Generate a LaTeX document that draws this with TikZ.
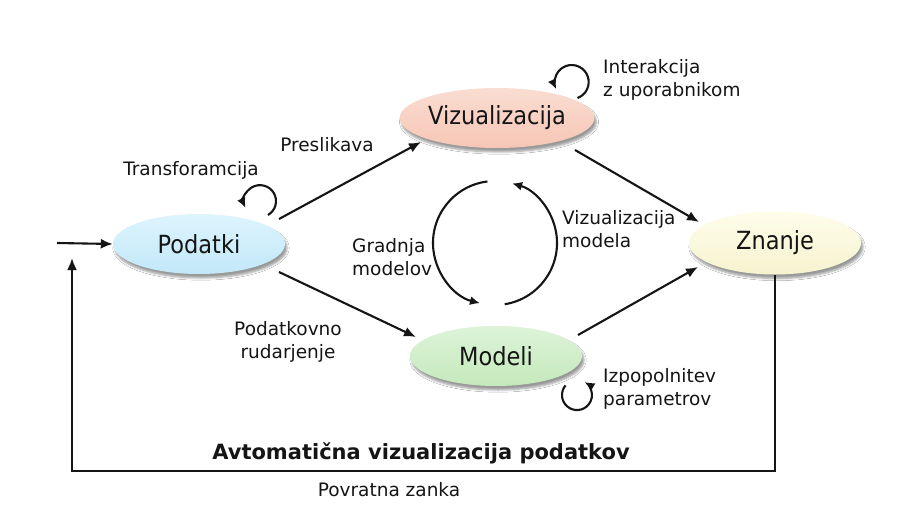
\documentclass[tikz,border=0pt]{standalone}
\usepackage{fontspec}
\setmainfont{DejaVu Sans}
\newfontfamily\statefont{DejaVu Sans Condensed}
\usetikzlibrary{shapes.geometric,arrows.meta,calc,shadows.blur}

\definecolor{podA}{HTML}{DDF4FD}\definecolor{podB}{HTML}{C2E8F8}
\definecolor{vizA}{HTML}{FADDD2}\definecolor{vizB}{HTML}{F6C6B5}
\definecolor{znaA}{HTML}{FEFDEA}\definecolor{znaB}{HTML}{F6F3CF}
\definecolor{modA}{HTML}{DDF3D8}\definecolor{modB}{HTML}{C4E9BC}
\definecolor{ink}{HTML}{151515}

\begin{document}
\begin{tikzpicture}[x=1pt,y=1pt,
  state/.style={ellipse, minimum width=172pt, minimum height=60pt, inner sep=0pt,
    font=\statefont\fontsize{25}{28}\selectfont, text=ink,
    blur shadow={shadow xshift=2pt, shadow yshift=-4pt, shadow blur steps=6, shadow opacity=40}},
  lbl/.style={font=\fontsize{18.5}{23}\selectfont, text=ink, inner sep=0pt},
  flow/.style={line width=2.1pt, draw=ink, -{Latex[length=12pt,width=10pt]}},
  selfloop/.style={line width=2.1pt, draw=ink, -{Latex[length=10pt,width=9pt]}},
]
\useasboundingbox (0,-505) rectangle (905,0);
\fill[white] (0,-505) rectangle (905,0);

% the four stages
\node[state, top color=podA, bottom color=podB] (podatki) at (199,-244) {Podatki};
\node[state, top color=vizA, bottom color=vizB] (viz) at (497,-118) {Vizualizacija};
\node[state, top color=znaA, bottom color=znaB, minimum height=63pt] (znanje) at (775,-243) {Znanje};
\node[state, top color=modA, bottom color=modB] (modeli) at (496,-356) {Modeli};

% main flow
\draw[flow] ($(podatki.center)+(80,25)$) -- ($(viz.center)+(-76,-24)$);
\draw[flow] ($(viz.center)+(78,-32)$) -- ($(znanje.center)+(-76,21)$);
\draw[flow] ($(podatki.center)+(80,-28)$) -- ($(modeli.center)+(-80,19)$);
\draw[flow] ($(modeli.center)+(82,21)$) -- ($(znanje.center)+(-77,-24)$);

% input and feedback loop
\coordinate (inp) at (57,-243);
\coordinate (fbend) at (72,-258);
\draw[flow] (inp) -- (podatki.west);
\draw[flow, line width=2.3pt]
  (znanje.south) -- (znanje.south |- 0,-471) -| (fbend);

% self loops
\draw[selfloop] ($(podatki.center)+(69,29)$) arc[start angle=-60, end angle=205, radius=16];
\draw[selfloop] ($(viz.center)+(80.5,20)$) arc[start angle=-70, end angle=205, radius=17];
\draw[selfloop] ($(modeli.center)+(69.5,-29.4)$) arc[start angle=140, end angle=420, radius=15];

% model building / model visualisation cycle
\coordinate (cyc) at (495,-243);
\draw[selfloop] ($(cyc)+(97:62)$) arc[start angle=97, end angle=256, radius=62];
\draw[selfloop] ($(cyc)+(-81:62)$) arc[start angle=-81, end angle=74, radius=62];

% labels
\node[lbl] (transf) at (191,-170) {Transforamcija};
\node[lbl] (presl) at (327,-145) {Preslikava};
\node[lbl, anchor=west, align=left] (inter) at (603,-80) {Interakcija\\z uporabnikom};
\node[lbl, anchor=west, align=left] (vizmod) at (562,-229) {Vizualizacija\\modela};
\node[lbl, anchor=west, align=left] (gradnja) at (352,-257) {Gradnja\\modelov};
\node[lbl, align=center] (rud) at (288,-342) {Podatkovno\\rudarjenje};
\node[lbl, anchor=west, align=left] (izp) at (603,-389) {Izpopolnitev\\parametrov};
\node[font=\bfseries\fontsize{21}{24}\selectfont, text=ink, inner sep=0pt] (avto) at (421,-453) {Avtomatična vizualizacija podatkov};
\node[lbl] (povr) at (389,-490) {Povratna zanka};
\end{tikzpicture}
\end{document}
